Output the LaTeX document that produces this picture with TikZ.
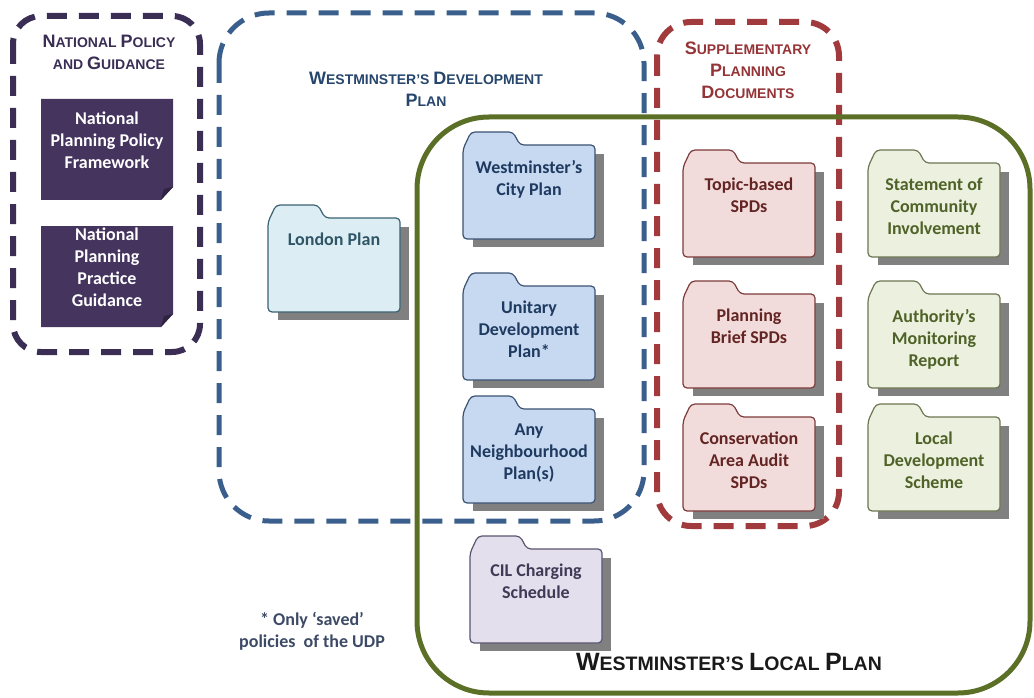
\documentclass[tikz,border=0pt]{standalone}
\usepackage{fontspec}
\setmainfont{Carlito}
\newfontfamily\hdfont{Liberation Sans}
\usepackage{tikz}

\definecolor{natline}{HTML}{3B2E55}
\definecolor{natF}{HTML}{44345E}
\definecolor{natfold}{HTML}{2E2340}
\definecolor{devline}{HTML}{3A5F8C}
\definecolor{devtext}{HTML}{27466C}
\definecolor{spdline}{HTML}{A03A3C}
\definecolor{spdtext}{HTML}{953437}
\definecolor{localline}{HTML}{5B7026}
\definecolor{lpF}{HTML}{DCEEF4}
\definecolor{lpL}{HTML}{3A6172}
\definecolor{lpT}{HTML}{2F5566}
\definecolor{blF}{HTML}{C6D9F1}
\definecolor{blL}{HTML}{3B5272}
\definecolor{blT}{HTML}{1F3A60}
\definecolor{cilF}{HTML}{E4DFEC}
\definecolor{cilL}{HTML}{5A5470}
\definecolor{cilT}{HTML}{403A57}
\definecolor{pkF}{HTML}{F2DCDB}
\definecolor{pkL}{HTML}{7C3A3A}
\definecolor{pkT}{HTML}{632523}
\definecolor{grF}{HTML}{EBF1DE}
\definecolor{grL}{HTML}{6B7652}
\definecolor{grT}{HTML}{4F6228}
\definecolor{docshadow}{HTML}{808080}
\definecolor{notetext}{HTML}{3D4A66}

\newcommand\Cap[1]{{\fontsize{18}{18}\selectfont #1}}
\newcommand\BigCap[1]{{\fontsize{25}{25}\selectfont #1}}

\begin{document}
\begin{tikzpicture}[x=1pt,y=-1pt,
  heading/.style={font=\hdfont\bfseries\fontsize{14}{22}\selectfont,align=center},
  doc text/.style={font=\bfseries\fontsize{18}{22}\selectfont,align=center,inner sep=0pt},
  dashed box/.style={line width=6pt,dash pattern=on 20pt off 12pt,rounded corners=#1},
  dashed box/.default=30pt]

\useasboundingbox (0,0) rectangle (1034,698);

% the three dashed groups
\draw[dashed box=28pt,natline] (13,16) rectangle (200,352);
\draw[dashed box=50pt,devline,line width=5pt] (219,13) rectangle (644,521);
\draw[dashed box=34pt,spdline] (657,22) rectangle (839,526);

% local plan
\draw[localline,line width=5pt,rounded corners=72pt] (417,117) rectangle (1030,693);

\node[heading,text=natline] (nattitle) at (109,52) {\Cap{N}ATIONAL \Cap{P}OLICY\\AND \Cap{G}UIDANCE};
\node[heading,text=devtext] (devtitle) at (426,89) {\Cap{W}ESTMINSTER’S \Cap{D}EVELOPMENT\\\Cap{P}LAN};
\node[heading,text=spdtext] (spdtitle) at (748,70) {\Cap{S}UPPLEMENTARY\\\Cap{P}LANNING\\\Cap{D}OCUMENTS};
\node[heading,font=\hdfont\bfseries\fontsize{19.5}{24}\selectfont,text=black!90] (localtitle) at (729,662)
  {\BigCap{W}ESTMINSTER’S \BigCap{L}OCAL \BigCap{P}LAN};

% national documents
\foreach \ny/\nname/\ntext in {99/npf/{National\\Planning Policy\\Framework}, 226/npg/{National\\Planning\\Practice\\Guidance}}{
 \begin{scope}[shift={(41,\ny)}]
  \fill[natF] (0,0) -- (132,0) -- (132,88) -- (120,101) -- (0,101) -- cycle;
  \fill[natfold] (120,101) -- (123,90) -- (132,88) -- cycle;
 \end{scope}
 \node[doc text,text=white] (\nname) at (107,\ny+41) {\ntext};
}

% folders
\foreach \fx/\fy/\fc/\fname/\ftext in {
   268/205/lp/london/{London Plan},
   463/132/bl/cityplan/{Westminster’s\\City Plan},
   463/273/bl/udp/{Unitary\\Development\\Plan*},
   463/396/bl/neighbourhood/{Any\\Neighbourhood\\Plan(s)},
   470/536/cil/cil/{CIL Charging\\Schedule},
   683/150/pk/topic/{Topic-based\\SPDs},
   683/281/pk/brief/{Planning\\Brief SPDs},
   683/404/pk/conservation/{Conservation\\Area Audit\\SPDs},
   868/150/gr/sci/{Statement of\\Community\\Involvement},
   868/281/gr/amr/{Authority’s\\Monitoring\\Report},
   868/404/gr/lds/{Local\\Development\\Scheme}}{
 \fill[docshadow] (\fx+10,\fy+22) rectangle (\fx+141,\fy+115);
 \begin{scope}[shift={(\fx,\fy)}]
  \draw[fill=\fc F,draw=\fc L,line width=1.2pt,rounded corners=4pt]
    (0,107) -- (0,17) -- (8,0) -- (50,0) -- (57,13) -- (132,13) -- (132,107) -- cycle;
 \end{scope}
 \node[doc text,anchor=north,text=\fc T] (\fname) at (\fx+66,\fy+28) {\ftext};
}

\node[doc text,text=notetext] (udpnote) at (312,631) {* Only ‘saved’\\policies\ \ of the UDP};
\end{tikzpicture}
\end{document}
